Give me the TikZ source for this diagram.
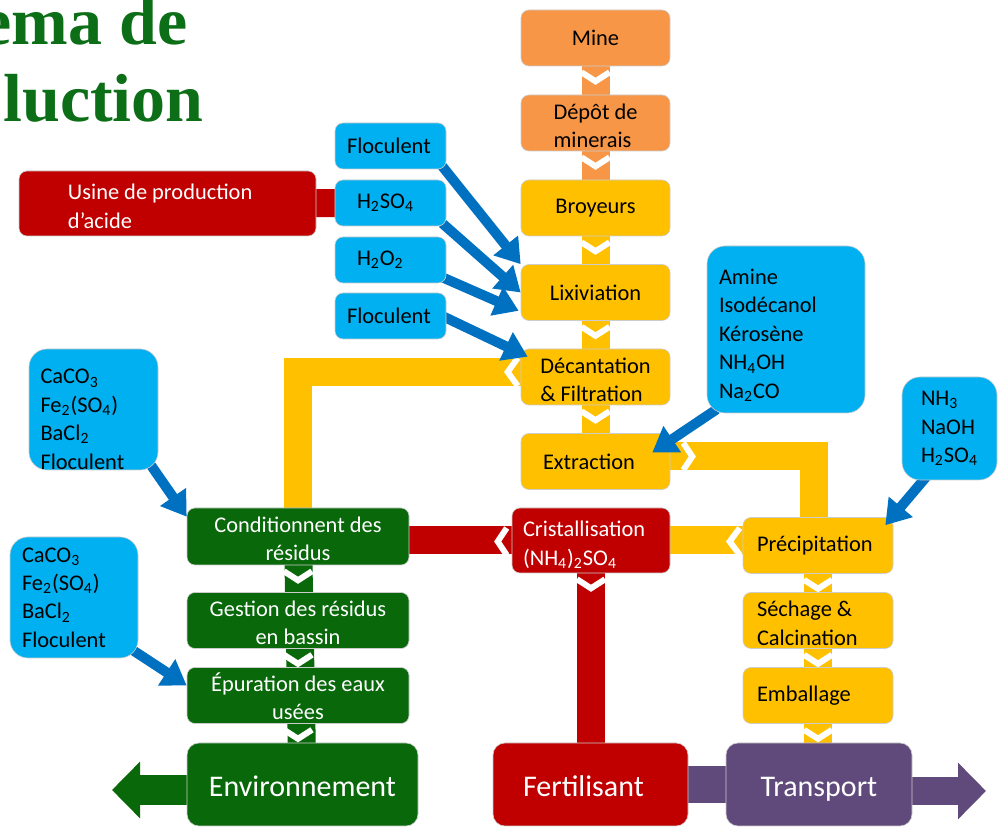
\documentclass[tikz,border=0pt]{standalone}
\usepackage{fontspec}
\setmainfont{Carlito}
\newfontfamily\titlefont{Liberation Serif}
\usepackage{tikz}
\usetikzlibrary{positioning}
\usetikzlibrary{calc}
\usetikzlibrary{arrows.meta}
\usetikzlibrary{backgrounds}
\pgfdeclarelayer{foreground}
\pgfsetlayers{background,main,foreground}

\definecolor{oreorange}{RGB}{247,150,70}
\definecolor{procyellow}{RGB}{255,192,0}
\definecolor{resgreen}{RGB}{8,104,10}
\definecolor{acidred}{RGB}{192,0,0}
\definecolor{reagblue}{RGB}{0,176,240}
\definecolor{feedblue}{RGB}{0,112,192}
\definecolor{shippurple}{RGB}{96,74,123}
\definecolor{titlegreen}{RGB}{12,110,22}

\tikzset{
    stage/.style={rounded corners=4pt, draw=black!20, line width=0.3pt,
        inner ysep=1pt, align=flush left, minimum width=74.5pt, minimum height=28pt,
        font=\fontsize{11.2}{14.2}\selectfont},
    twoline/.style={text height=8pt, text depth=11.5pt},
    twolast/.style={inner ysep=0pt, text height=24.5pt, text depth=0pt},
    mineral/.style={stage, fill=oreorange},
    process/.style={stage, fill=procyellow},
    residue/.style={stage, fill=resgreen, text=white},
    acid/.style={stage, fill=acidred, text=white},
    ship/.style={stage, fill=shippurple, text=white},
    reagent/.style={stage, fill=reagblue},
    outlet/.style={rounded corners=6pt, minimum height=41.5pt,
        text height=13.5pt, text depth=1pt,
        font=\fontsize{15}{18}\selectfont},
    heading/.style={text=titlegreen, inner sep=0pt,
        font=\titlefont\bfseries\fontsize{34}{37}\selectfont},
    flow/.style={draw=#1, line width=14pt},
    chev/.style={draw=white, line width=3pt},
    feed/.style={draw=feedblue, line width=5pt, -{Triangle[length=12pt, width=15pt]}}
}

\begin{document}
\begin{tikzpicture}[x=0.5pt, y=-0.5pt]
    \useasboundingbox (0,0) rectangle (998,828);
    \clip (0,0) rectangle (998,828);

    \node[heading, anchor=base east] (head1) at (188,45) {ema de};
    \node[heading, anchor=base east] (head2) at (204,122) {luction};

    \node[mineral, align=center] (mine) at (595.5,38) {Mine};
    \node[mineral, twolast] (depot) at (595.5,123) {Dépôt de\\minerais};
    \node[process, align=center] (broy) at (595.5,208) {Broyeurs};
    \node[process, align=center] (lix) at (595.5,292.5) {Lixiviation};
    \node[process, twolast] (dec) at (595.5,377) {Décantation\\\& Filtration};
    \node[process, text width=52.5pt, inner xsep=11pt] (ext) at (595.5,461.5) {Extraction};

    \node[process, minimum width=75pt, text width=61pt, inner xsep=7pt] (prec) at (818,545.5) {Précipitation};
    \node[process, twoline, minimum width=75pt, text width=61pt, inner xsep=7pt] (sech) at (818,620.5) {Séchage \&\\Calcination};
    \node[process, minimum width=75pt, text width=61pt, inner xsep=7pt] (emb) at (818,695.5) {Emballage};

    \node[residue, twolast, minimum width=111pt, minimum height=28.5pt, align=center] (cond) at (298,536.5) {Conditionnent des\\résidus};
    \node[residue, twolast, minimum width=111pt, align=center] (gest) at (298,620.5) {Gestion des résidus\\en bassin};
    \node[residue, twolast, minimum width=111pt, align=center] (epur) at (298,695.5) {Épuration des eaux\\usées};
    \node[residue, outlet, minimum width=115.5pt, align=center] (env) at (302.5,784.5) {Environnement};

    \node[acid, twoline, minimum width=79pt, minimum height=32.5pt, text width=68pt, inner xsep=5.5pt] (crist) at (591,540.5)
        {Cristallisation\\(NH\textsubscript{4})\textsubscript{2}SO\textsubscript{4}};
    \node[acid, outlet, minimum width=97.5pt, text width=67.5pt, inner xsep=15pt] (fert) at (590.5,784.5) {Fertilisant};
    \node[ship, outlet, minimum width=93pt, align=center] (trans) at (819,784.5) {Transport};
    \node[acid, twoline, minimum width=148.5pt, minimum height=32.5pt, text width=99.5pt, inner xsep=24.5pt] (usine) at (167.5,203.5)
        {Usine de production\\d’acide};

    \begin{pgfonlayer}{foreground}
    \node[reagent, minimum width=55.5pt, minimum height=23pt, text width=43.5pt, inner xsep=6pt] (floc1) at (390.5,146) {Floculent};
    \node[reagent, minimum width=55.5pt, minimum height=23pt, text width=33.5pt, inner xsep=11pt] (h2so4) at (390.5,203) {H\textsubscript{2}SO\textsubscript{4}};
    \node[reagent, minimum width=55.5pt, minimum height=23pt, text width=33.5pt, inner xsep=11pt] (h2o2) at (390.5,260) {H\textsubscript{2}O\textsubscript{2}};
    \node[reagent, minimum width=55.5pt, minimum height=23pt, text width=43.5pt, inner xsep=6pt] (floc2) at (390.5,316) {Floculent};
    \node[reagent, rounded corners=9pt, minimum width=79pt, minimum height=83.5pt, text width=67pt, inner xsep=6pt,
        text height=8.4pt, text depth=53.3pt] (amine) at (786,329.5)
        {Amine\\Isodécanol\\Kérosène\\NH\textsubscript{4}OH\\Na\textsubscript{2}CO};
    \node[reagent, rounded corners=9pt, minimum width=47.5pt, minimum height=51.5pt, text width=28.5pt, inner xsep=9.5pt] (nh3) at (949.5,428.5)
        {NH\textsubscript{3}\\NaOH\\H\textsubscript{2}SO\textsubscript{4}};
    \node[reagent, rounded corners=9pt, minimum width=64.5pt, minimum height=60.5pt, text width=53pt, inner xsep=5.75pt,
        text height=8.4pt, text depth=34pt] (caco1) at (93.5,409.5)
        {CaCO\textsubscript{3}\\Fe\textsubscript{2}(SO\textsubscript{4})\\BaCl\textsubscript{2}\\Floculent};
    \node[reagent, rounded corners=9pt, minimum width=64pt, minimum height=60.5pt, text width=52pt, inner xsep=6pt] (caco2) at (74,597.5)
        {CaCO\textsubscript{3}\\Fe\textsubscript{2}(SO\textsubscript{4})\\BaCl\textsubscript{2}\\Floculent};
    \end{pgfonlayer}

    \coordinate (envtip) at (112,790);
    \coordinate (transtip) at (986,791);

    \begin{scope}[on background layer]
        \draw[flow=oreorange] (mine.center) -- (broy.center);
        \draw[flow=procyellow] (broy.center) -- (ext.center);
        \draw[flow=procyellow, line join=miter] ($(dec.center)+(0,-5)$) -| (cond.center);
        \draw[flow=procyellow, line join=miter] ($(ext.center)+(0,-5)$) -| ($(prec.center)+(-4,0)$);
        \draw[flow=procyellow] (prec.center) -- (emb.center |- trans.center);
        \draw[flow=procyellow] (prec.center |- crist.center) -- (crist.center);
        \draw[flow=acidred] (crist.center) -- (cond.center |- crist.center);
        \draw[flow=acidred] (crist.center) -- (crist.center |- fert.center);
        \draw[flow=acidred] (usine.center) -- (h2so4.center);
        \draw[flow=resgreen] (cond.center) -- (env.center);
        \draw[flow=shippurple, line width=18.5pt] (fert.center) -- (trans.center);
        \draw[flow=resgreen, line width=15pt, -{Triangle[length=14pt, width=27.5pt]}] (env.center |- envtip) -- (envtip);
        \draw[flow=shippurple, -{Triangle[length=14pt, width=27.5pt]}] (trans.center |- transtip) -- (transtip);
    \end{scope}

    \foreach \n in {mine,depot,broy,lix,dec,cond,gest,epur,crist,prec,sech,emb}
        \draw[chev] ([xshift=-7pt, yshift=-3pt]\n.south) -- ([yshift=-7.5pt]\n.south) -- ([xshift=7pt, yshift=-3pt]\n.south);
    \draw[chev] ($(dec.west)+(-3,-19)$) -- ++(-10,14) -- ++(10,14);
    \draw[chev] ($(crist.west)+(-5,-12.5)$) -- ++(-9,13.5) -- ++(9,13.5);
    \draw[chev] ($(prec.west)+(-3,-17.5)$) -- ++(-10,13.5) -- ++(10,13.5);
    \draw[chev] ($(ext.east)+(13,-18.5)$) -- ++(9,13.5) -- ++(-9,13.5);

    \draw[feed] ($(floc1.south east)+(-4,-3)$) -- (lix.north west);
    \draw[feed] ($(h2so4.south east)+(-4,-3)$) -- (lix.west);
    \draw[feed] ($(h2o2.south east)+(-4,-6)$) -- ($(lix.south west)+(-2,-10)$);
    \draw[feed] ($(floc2.east)+(-4,0)$) -- ($(dec.north west)+(7,8)$);
    \draw[feed] ($(amine.south west)+(10,-4)$) -- ($(ext.east)+(-18,-9)$);
    \draw[feed] ($(nh3.south west)+(25,-4)$) -- ($(prec.north east)+(-8,8)$);
    \draw[feed] ($(caco1.south east)+(-8,-6)$) -- ($(cond.north west)+(0,9)$);
    \draw[feed] ($(caco2.south east)+(-13,-13)$) -- ($(epur.west)+(0,-10)$);
\end{tikzpicture}
\end{document}
